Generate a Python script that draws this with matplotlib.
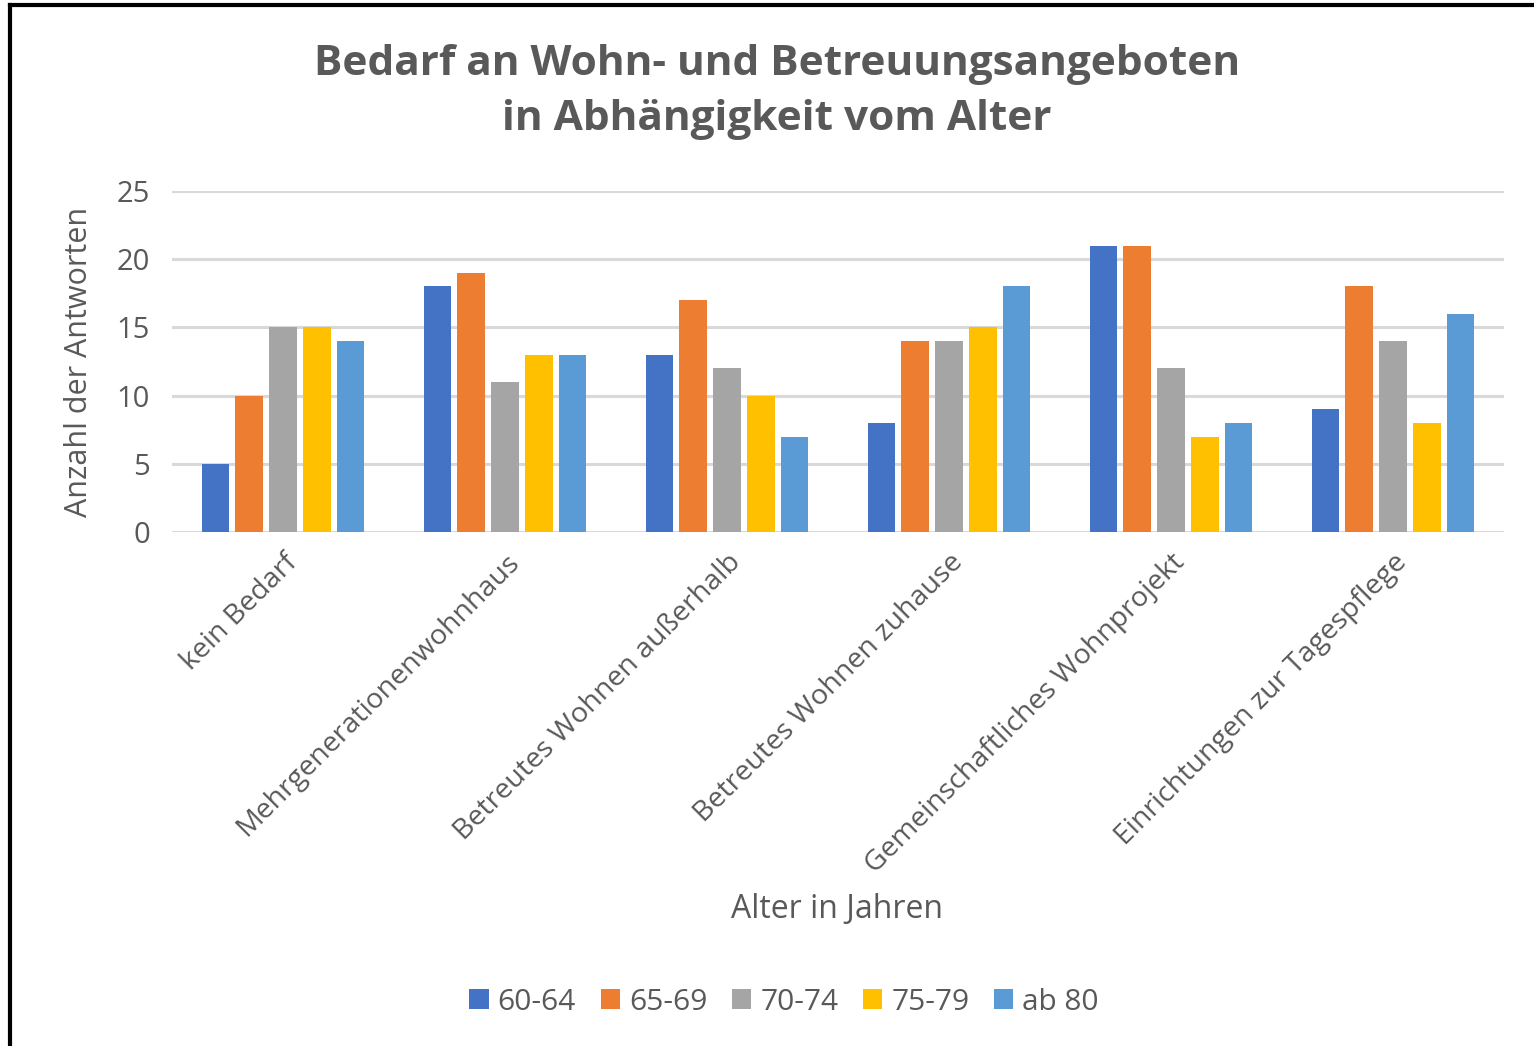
import numpy as np
import matplotlib.pyplot as plt
from matplotlib.lines import Line2D

plt.rcParams['font.family'] = ['Open Sans', 'DejaVu Sans']

categories = ["kein Bedarf", "Mehrgenerationenwohnhaus", "Betreutes Wohnen außerhalb",
              "Betreutes Wohnen zuhause", "Gemeinschaftliches Wohnprojekt",
              "Einrichtungen zur Tagespflege"]
age_groups = ["60-64", "65-69", "70-74", "75-79", "ab 80"]
v_60_64 = [5, 18, 13, 8, 21, 9]
v_65_69 = [10, 19, 17, 14, 21, 18]
v_70_74 = [15, 11, 12, 14, 12, 14]
v_75_79 = [15, 13, 10, 15, 7, 8]
v_ab_80 = [14, 13, 7, 18, 8, 16]
series = [v_60_64, v_65_69, v_70_74, v_75_79, v_ab_80]
colors = ["#4472C4", "#ED7D31", "#A5A5A5", "#FFC000", "#5B9BD5"]

text_col = "#595959"
grid_col = "#D9D9D9"

fig = plt.figure(figsize=(15.34, 10.46), dpi=100)
ax = fig.add_axes([172 / 1534, 1 - 532 / 1046, (1504 - 172) / 1534, (532 - 191) / 1046])

x = np.arange(len(categories))
step = 0.153
w = 0.122
for i, (vals, col, lab) in enumerate(zip(series, colors, age_groups)):
    ax.bar(x + (i - 2) * step, vals, width=w, color=col, linewidth=0,
           label=lab, zorder=3)

ax.set_xlim(-0.5, len(categories) - 0.5)
ax.set_ylim(0, 25)
ax.set_yticks(range(0, 26, 5))
ax.yaxis.grid(True, color=grid_col, linewidth=2.2, zorder=0)
ax.set_axisbelow(True)
for s in ax.spines.values():
    s.set_visible(False)
ax.tick_params(axis="both", length=0, colors=text_col, labelsize=21)
ax.tick_params(axis="y", pad=16)
ax.set_xticks(x)
ax.set_xticklabels(categories, rotation=45, ha="right", rotation_mode="anchor",
                   fontsize=20.5, color=text_col)
ax.tick_params(axis="x", pad=12)
ax.set_ylabel("Anzahl der Antworten", fontsize=22, color=text_col)
ax.yaxis.set_label_coords(-78 / 1332, 0.5)

fig.text(777 / 1534, 1 - 92 / 1046, "Bedarf an Wohn- und Betreuungsangeboten\nin Abhängigkeit vom Alter",
         ha="center", va="center", fontsize=30.5, fontweight="bold", color=text_col,
         linespacing=1.48)
fig.text(837 / 1534, 1 - 910 / 1046, "Alter in Jahren", ha="center", va="center",
         fontsize=23, color=text_col)

leg = fig.legend(loc="center", bbox_to_anchor=(784 / 1534, 1 - 1002 / 1046), ncol=5,
                 frameon=False, fontsize=21.5, handlelength=0.65, handleheight=0.65,
                 handletextpad=0.3, columnspacing=0.82, labelcolor=text_col)

# frame lines along the left and top edges
fig.add_artist(Line2D([10 / 1534, 10 / 1534], [0, 1 - 5 / 1046], color="black",
                      linewidth=3, transform=fig.transFigure))
fig.add_artist(Line2D([10 / 1534, 1], [1 - 5 / 1046, 1 - 5 / 1046], color="black",
                      linewidth=3, transform=fig.transFigure))

fig.savefig("out.png", dpi=100, facecolor="white")
